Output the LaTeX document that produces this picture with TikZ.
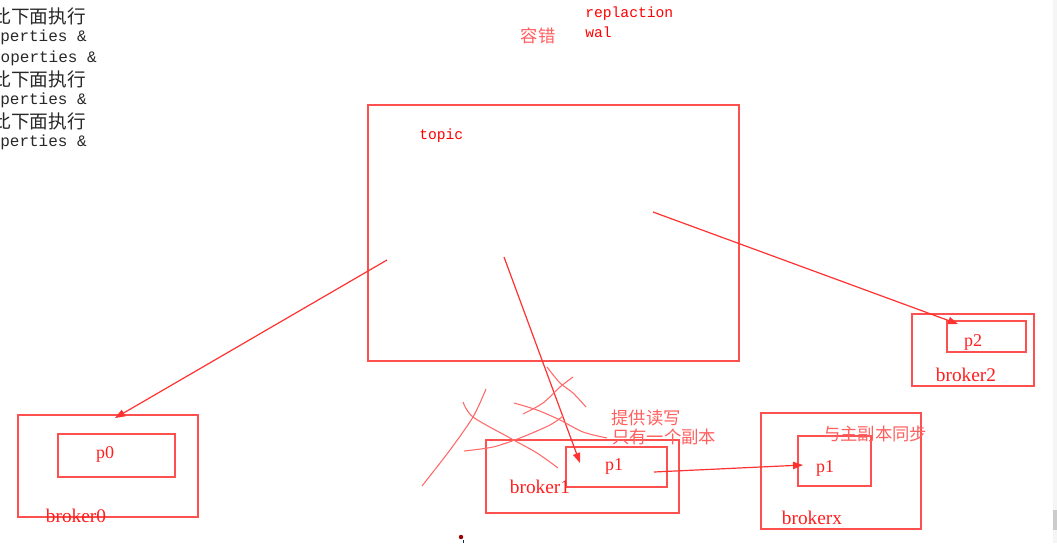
\documentclass[tikz,border=0pt]{standalone}
\usepackage{fontspec}
\setmainfont{Liberation Serif}
\setmonofont{Liberation Mono}
\newfontfamily\cjk{Noto Sans CJK SC}
\usetikzlibrary{arrows.meta,fit}
\definecolor{boxred}{RGB}{255,80,80}
\definecolor{labred}{RGB}{255,30,30}
\definecolor{cjkred}{RGB}{255,95,95}
\definecolor{arrred}{RGB}{255,50,50}
\definecolor{scribred}{RGB}{255,105,105}
\definecolor{darktext}{RGB}{40,40,40}
\definecolor{dotred}{RGB}{160,0,0}
\definecolor{dotblue}{RGB}{20,40,80}
\begin{document}
\begin{tikzpicture}[x=0.75pt,y=-0.75pt,
  box/.style={draw=boxred, line width=1.1pt, inner sep=0pt},
  lab/.style={text=labred, font=\fontsize{13.5pt}{15pt}\selectfont, inner sep=0pt},
  blab/.style={text=labred, font=\fontsize{14.5pt}{16pt}\selectfont, inner sep=0pt},
  cjklab/.style={text=cjkred, font=\cjk\fontsize{13pt}{15pt}\selectfont, inner sep=0pt},
  monolab/.style={text=red, font=\ttfamily\fontsize{11pt}{13pt}\selectfont, inner sep=0pt},
  topcjk/.style={text=darktext, font=\cjk\fontsize{14pt}{16pt}\selectfont, inner sep=0pt, anchor=east},
  topmono/.style={text=darktext, font=\ttfamily\fontsize{12pt}{14pt}\selectfont, inner sep=0pt, anchor=east},
  arr/.style={draw=arrred, line width=0.9pt, -{Triangle[length=7.5pt,width=5.5pt]}},
  scrib/.style={draw=scribred, line width=0.8pt}]
\useasboundingbox (0,0) rectangle (1057,543);
\clip (0,0) rectangle (1057,543);
\fill[white] (0,0) rectangle (1057,543);

% top-left clipped text
\node[topcjk] (t1) at (86,16) {此下面执行};
\node[topmono] (t2) at (87,37) {properties \&};
\node[topmono] (t3) at (97,58) {properties \&};
\node[topcjk] (t4) at (86,79) {此下面执行};
\node[topmono] (t5) at (87,100) {properties \&};
\node[topcjk] (t6) at (86,121) {此下面执行};
\node[topmono] (t7) at (87,142) {properties \&};

% top labels
\node[cjklab] (rongcuo) at (538,36) {容错};
\node[monolab, anchor=west] (repl) at (585,14) {replaction};
\node[monolab, anchor=west] (wal) at (585,32) {wal};

% topic
\node[box, fit={(368,105) (739,361)}] (topic) {};
\node[monolab, anchor=west] (topiclab) at (419,136) {topic};

% broker0
\node[box, fit={(18,415) (198,517)}] (broker0) {};
\node[box, fit={(58,434) (175,477)}] (p0box) {};
\node[lab] (p0lab) at (105,454) {p0};
\node[blab] (b0lab) at (76,516) {broker0};

% broker2
\node[box, fit={(912,314) (1034,386)}] (broker2) {};
\node[box, fit={(947,321) (1026,352)}] (p2box) {};
\node[lab] (p2lab) at (973,342) {p2};
\node[blab] (b2lab) at (966,375) {broker2};

% broker1
\node[box, fit={(486,440) (679,513)}] (broker1) {};
\node[box, fit={(566,447) (667,487)}] (p1box) {};
\node[lab] (p1lab) at (614,466) {p1};
\node[blab] (b1lab) at (540,487) {broker1};
\node[cjklab] (rw) at (646,418) {提供读写};
\node[cjklab] (onecopy) at (664,437) {只有一个副本};

% brokerx
\node[box, fit={(761,413) (921,529)}] (brokerx) {};
\node[box, fit={(798,436) (871,486)}] (pxbox) {};
\node[lab] (pxlab) at (825,468) {p1};
\node[blab] (bxlab) at (812,518) {brokerx};
\node[cjklab] (sync) at (875,434) {与主副本同步};

% arrows
\coordinate (s0) at (387,260);
\coordinate (e0) at (115,418);
\coordinate (s1) at (504,257);
\coordinate (e1) at (580,463);
\coordinate (s2) at (653,212);
\coordinate (e2) at (958,324);
\coordinate (s3) at (654,472);
\coordinate (e3) at (803,465);
\draw[arr] (s0) -- (e0);
\draw[arr] (s1) -- (e1);
\draw[arr] (s2) -- (e2);
\draw[arr] (s3) -- (e3);

% scribbles
\draw[scrib] plot[smooth] coordinates {(422,486) (450,450) (473,417) (486,389)};
\draw[scrib] plot[smooth] coordinates {(463,402) (473,417) (510,438) (537,453) (558,468)};
\draw[scrib] plot[smooth] coordinates {(464,451) (493,447) (520,438) (550,425) (563,416)};
\draw[scrib] plot[smooth] coordinates {(514,403) (537,410) (560,420) (583,432) (607,438)};
\draw[scrib] plot[smooth] coordinates {(523,414) (543,403) (560,387) (573,377)};
\draw[scrib] plot[smooth] coordinates {(547,367) (560,383) (573,393) (586,407)};

% stray dot
\fill[dotred] (461,537) circle (2.2);
\fill[dotblue] (462.5,540) rectangle (464,543);

% scrollbar strip
\fill[gray!8] (1053,0) rectangle (1057,543);
\fill[gray!40] (1053,510) rectangle (1057,530);
\end{tikzpicture}
\end{document}
